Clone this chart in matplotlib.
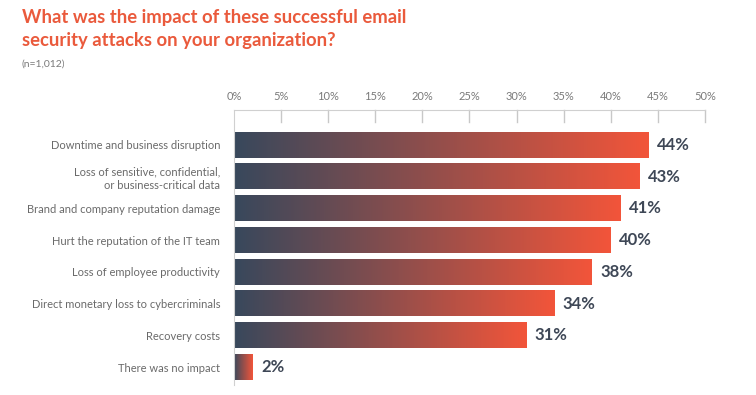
import matplotlib.pyplot as plt
import numpy as np
from matplotlib.colors import LinearSegmentedColormap

plt.rcParams['font.family'] = ['Lato', 'DejaVu Sans']

categories = ["Downtime and business disruption",
              "Loss of sensitive, confidential,\nor business-critical data",
              "Brand and company reputation damage",
              "Hurt the reputation of the IT team",
              "Loss of employee productivity",
              "Direct monetary loss to cybercriminals",
              "Recovery costs",
              "There was no impact"]
values = [44, 43, 41, 40, 38, 34, 31, 2]
ticks = [0, 5, 10, 15, 20, 25, 30, 35, 40, 45, 50]

cmap = LinearSegmentedColormap.from_list("grad", ["#38485c", "#f2553a"])

fig = plt.figure(figsize=(7.56, 3.95), dpi=100)
ax = fig.add_axes([0.3095, 0.025, 0.623, 0.6965])

y = np.arange(len(categories))
bars = ax.barh(y, values, height=0.8, color="none")
grad = np.linspace(0, 1, 256).reshape(1, -1)
for b, v in zip(bars, values):
    x0, y0, w, h = b.get_x(), b.get_y(), b.get_width(), b.get_height()
    ax.imshow(grad, extent=[x0, x0 + w, y0 + h, y0], aspect="auto", cmap=cmap, zorder=2)
    ax.text(v + 0.9, b.get_y() + h / 2, f"{v}%", va="center", ha="left",
            fontsize=12, fontweight="bold", color="#3e4756")

ax.set_xlim(0, 50)
ax.set_ylim(7.57, -1.1)
ax.set_yticks(y)
ax.set_yticklabels(categories, fontsize=8, color="#6a6a6a", linespacing=1.3)
ax.set_xticks(ticks)
ax.set_xticklabels([f"{t}%" for t in ticks], fontsize=8, color="#7a7a7a")
ax.xaxis.tick_top()
ax.tick_params(axis="x", direction="out", length=0, pad=6)
ax.tick_params(axis="y", length=0, pad=10)
for t in ticks[1:]:
    ax.plot([t, t], [-1.1, -0.72], color="#c8c8c8", lw=1, zorder=1, clip_on=False)
for s in ["right", "bottom"]:
    ax.spines[s].set_visible(False)
ax.spines["top"].set_color("#d0d0d0")
ax.spines["left"].set_color("#d0d0d0")

fig.text(0.029, 0.978, "What was the impact of these successful email\nsecurity attacks on your organization?",
         fontsize=13.3, fontweight="bold", color="#ea5a3c", va="top", ha="left", linespacing=1.45)
fig.text(0.029, 0.85, "(n=1,012)", fontsize=7.5, color="#7a7a7a", va="top", ha="left")

fig.savefig("out.png", dpi=100)
